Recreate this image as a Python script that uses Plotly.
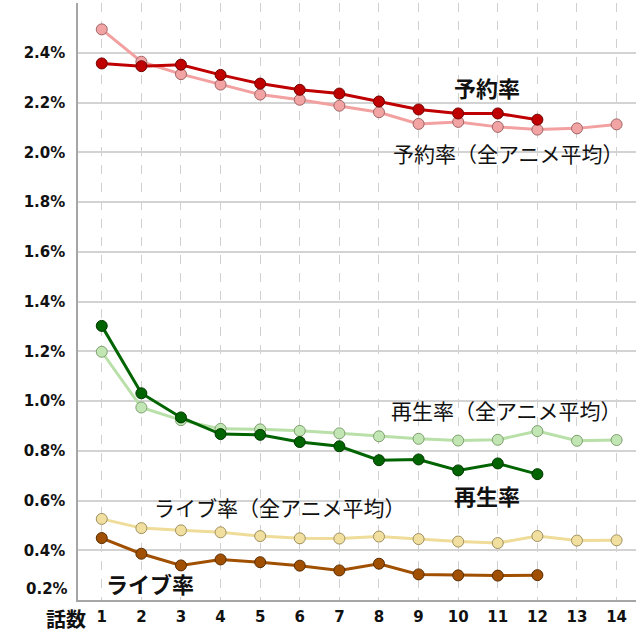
import plotly.graph_objects as go

episodes = list(range(1, 15))
ep12 = list(range(1, 13))

yoyaku = [2.357, 2.346, 2.352, 2.311, 2.276, 2.251, 2.236, 2.204, 2.172, 2.156, 2.156, 2.131]
yoyaku_avg = [2.494, 2.364, 2.314, 2.272, 2.232, 2.211, 2.187, 2.161, 2.114, 2.122, 2.102, 2.091, 2.096, 2.112]
saisei = [1.302, 1.031, 0.934, 0.867, 0.864, 0.835, 0.818, 0.762, 0.765, 0.721, 0.749, 0.706]
saisei_avg = [1.198, 0.974, 0.923, 0.888, 0.886, 0.880, 0.870, 0.858, 0.848, 0.841, 0.844, 0.879, 0.840, 0.843]
live = [0.449, 0.386, 0.339, 0.363, 0.352, 0.338, 0.319, 0.346, 0.303, 0.299, 0.298, 0.300]
live_avg = [0.526, 0.489, 0.480, 0.472, 0.457, 0.448, 0.447, 0.455, 0.445, 0.435, 0.429, 0.457, 0.439, 0.440]

y_ticks = [0.2, 0.4, 0.6, 0.8, 1.0, 1.2, 1.4, 1.6, 1.8, 2.0, 2.2, 2.4]

fig = go.Figure()

def add(x, y, line_color, fill, outline, width=3):
    fig.add_trace(go.Scatter(
        x=x, y=y, mode="lines+markers",
        line=dict(color=line_color, width=width),
        marker=dict(size=11, color=fill, line=dict(color=outline, width=1)),
        showlegend=False, hoverinfo="x+y",
    ))

add(episodes, yoyaku_avg, "#F2A0A0", "#F2A4A4", "#A06464")
add(ep12, yoyaku, "#C00000", "#C00000", "#700000")
add(episodes, saisei_avg, "#B8E0A8", "#C2E5B4", "#7FA070")
add(ep12, saisei, "#006400", "#006400", "#003800")
add(episodes, live_avg, "#EEDC98", "#F0DF9E", "#A09060")
add(ep12, live, "#A05000", "#A05000", "#5A2C00")

tf = dict(family="DejaVu Sans", size=15, color="#111", weight="bold")

fig.update_xaxes(
    range=[0.4, 14.49], tickvals=episodes, ticktext=[str(e) for e in episodes],
    showgrid=True, gridcolor="#D0D0D0", gridwidth=1, griddash="dash",
    showline=True, linecolor="#A6A6A6", linewidth=1.5, zeroline=False,
    tickfont=tf, ticks="", ticklabelstandoff=2, automargin=False,
)
fig.update_yaxes(
    range=[0.2, 2.6], tickvals=y_ticks,
    ticktext=["" if v == 0.2 else f"{v:.1f}%" for v in y_ticks],
    showgrid=True, gridcolor="#D3D3D3", gridwidth=1.5,
    showline=True, linecolor="#A6A6A6", linewidth=1.5, zeroline=False,
    tickfont=tf, ticks="", ticklabelstandoff=8, automargin=False,
)

jp = "Noto Sans CJK JP"
ann = [
    dict(x=10.73, y=2.264, text="<b>予約率</b>", size=22),
    dict(x=11.26, y=1.997, text="予約率（全アニメ平均）", size=21),
    dict(x=11.21, y=0.964, text="再生率（全アニメ平均）", size=21),
    dict(x=10.74, y=0.622, text="<b>再生率</b>", size=22),
    dict(x=5.50, y=0.575, text="ライブ率（全アニメ平均）", size=21),
    dict(x=2.22, y=0.268, text="<b>ライブ率</b>", size=22),
]
for a in ann:
    fig.add_annotation(x=a["x"], y=a["y"], xref="x", yref="y", text=a["text"],
                       showarrow=False, xanchor="center", yanchor="middle",
                       font=dict(family=jp, size=a["size"], color="#111"))

fig.add_annotation(x=0, y=0.244, xref="paper", yref="y", text="0.2%", showarrow=False,
                   xanchor="right", yanchor="middle", xshift=-8, font=tf)
fig.add_annotation(x=(66 - 78) / 558, y=-(618 - 600) / 597, xref="paper", yref="paper",
                   text="<b>話数</b>", showarrow=False, xanchor="center", yanchor="middle",
                   font=dict(family=jp, size=20, color="#111"))

fig.update_layout(
    width=640, height=640,
    margin=dict(l=78, r=4, t=3, b=40, autoexpand=False),
    plot_bgcolor="white", paper_bgcolor="white",
)

fig.write_html("out.html", config={"displayModeBar": False},
               post_script="document.body.style.margin='0';")
